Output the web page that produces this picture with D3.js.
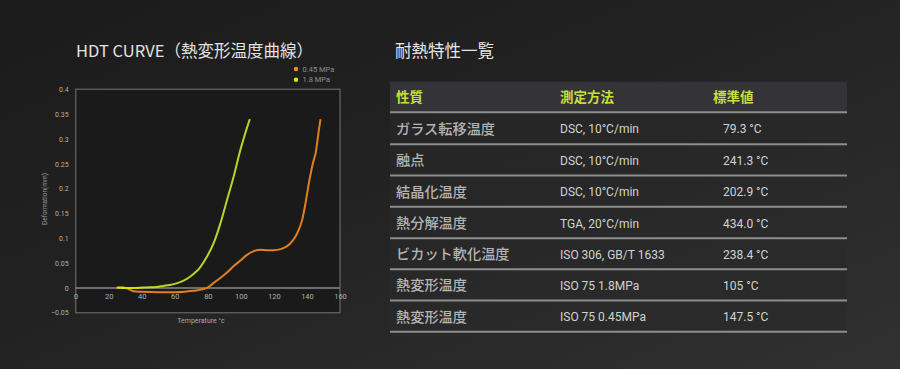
<!DOCTYPE html>
<html>
<head>
<meta charset="utf-8">
<script src="https://cdn.jsdelivr.net/npm/d3@7"></script>
<style>
html,body{margin:0;padding:0;background:#222;}
svg{display:block;}
</style>
</head>
<body>
<svg id="c" width="900" height="369"></svg>
<script>
// ---- data ----
const seriesNames = ["0.45 MPa", "1.8 MPa"];
const tempOrange = [24.5, 28, 31, 33, 35, 40, 50, 60, 66, 71, 75, 79.5, 83.5, 87.5, 91.6, 95.7, 99.7, 103.5, 107.8, 111.8, 115.9, 119.9, 124, 127, 130, 132, 134.1, 137.1, 139.1, 141.1, 143.2, 144.5, 145.3, 146, 147, 148.2];
const defOrange  = [0, 0.001, -0.001, -0.004, -0.007, -0.008, -0.009, -0.009, -0.008, -0.006, -0.004, 0, 0.010, 0.020, 0.031, 0.044, 0.055, 0.066, 0.074, 0.077, 0.076, 0.076, 0.078, 0.082, 0.090, 0.098, 0.110, 0.137, 0.170, 0.210, 0.245, 0.262, 0.272, 0.288, 0.313, 0.340];
const tempGreen = [25, 31, 37, 43, 49, 53, 57, 61, 65, 69, 72, 75, 79.5, 83.5, 87.6, 91.6, 95.6, 99.7, 102.5, 105.4];
const defGreen  = [0.001, 0, 0, 0.001, 0.002, 0.004, 0.006, 0.009, 0.014, 0.022, 0.030, 0.040, 0.063, 0.090, 0.130, 0.177, 0.224, 0.278, 0.310, 0.340];
const xTicks = [0, 20, 40, 60, 80, 100, 120, 140, 160];
const yTicks = [-0.05, 0, 0.05, 0.1, 0.15, 0.2, 0.25, 0.3, 0.35, 0.4];

const tableHeader = ["性質", "測定方法", "標準値"];
const propNames = ["ガラス転移温度", "融点", "結晶化温度", "熱分解温度", "ビカット軟化温度", "熱変形温度", "熱変形温度"];
const methods = ["DSC, 10°C/min", "DSC, 10°C/min", "DSC, 10°C/min", "TGA, 20°C/min", "ISO 306, GB/T 1633", "ISO 75 1.8MPa", "ISO 75 0.45MPa"];
const values = ["79.3 °C", "241.3 °C", "202.9 °C", "434.0 °C", "238.4 °C", "105 °C", "147.5 °C"];

// ---- drawing ----
const svg = d3.select("#c");
const defs = svg.append("defs");
const bg = defs.append("linearGradient").attr("id","bg").attr("x1","0").attr("y1","0").attr("x2","1").attr("y2","1");
bg.append("stop").attr("offset","0%").attr("stop-color","#1b1b1b");
bg.append("stop").attr("offset","45%").attr("stop-color","#222222");
bg.append("stop").attr("offset","100%").attr("stop-color","#313131");
svg.append("rect").attr("width",900).attr("height",369).attr("fill","url(#bg)");

const cjk = "'Noto Sans CJK JP','Noto Sans',sans-serif";
const lat = "Roboto,'Noto Sans',sans-serif";

// titles
svg.append("text").attr("x",76).attr("y",57).attr("fill","#e2e2e2")
  .style("font-family",cjk).style("font-size","16.5px").text("HDT CURVE（熱変形温度曲線）");
svg.append("text").attr("x",395).attr("y",57).attr("fill","#e6e6e6")
  .style("font-family",cjk).style("font-size","16.5px").text("耐熱特性一覧");

// chart
const x = d3.scaleLinear().domain([0,160]).range([75.7,340]);
const y = d3.scaleLinear().domain([-0.05,0.4]).range([312.7,89.3]);

svg.append("rect").attr("x",x(0)).attr("y",y(0.4)).attr("width",x(160)-x(0)).attr("height",y(-0.05)-y(0.4))
  .attr("fill","#1a1a1a").attr("stroke","#5a5a5a").attr("stroke-width",1.5);

svg.append("line").attr("x1",x(0)).attr("x2",x(160)).attr("y1",y(0)).attr("y2",y(0))
  .attr("stroke","#8a8a8a").attr("stroke-width",1.5);

const yAxis = svg.append("g").attr("transform",`translate(${x(0)},0)`)
  .call(d3.axisLeft(y).tickValues(yTicks).tickSize(0).tickPadding(7).tickFormat(d => d3.format("")(+d.toFixed(2))));
yAxis.select(".domain").remove();
yAxis.selectAll("text").attr("fill","#b0b0b0").style("font-family",lat).style("font-size","7px");

const xAxis = svg.append("g").attr("transform",`translate(0,${y(0)})`)
  .call(d3.axisBottom(x).tickValues(xTicks).tickSize(0).tickPadding(6));
xAxis.select(".domain").remove();
xAxis.selectAll("text").attr("fill","#b0b0b0").style("font-family",lat).style("font-size","7.5px");

svg.append("text").attr("transform","translate(47,199) rotate(-90)").attr("text-anchor","middle")
  .attr("fill","#999").style("font-family",lat).style("font-size","6.5px").text("Deformation(mm)");
svg.append("text").attr("x",201).attr("y",323).attr("text-anchor","middle")
  .attr("fill","#aaa").style("font-family",lat).style("font-size","7px").text("Temperature  °c");

const line = d3.line().x(d => x(d[0])).y(d => y(d[1])).curve(d3.curveMonotoneX);
const orangeData = tempOrange.map((t,i) => [t, defOrange[i]]);
const greenData = tempGreen.map((t,i) => [t, defGreen[i]]);
svg.append("path").datum(orangeData).attr("d",line).attr("fill","none")
  .attr("stroke","#e2801c").attr("stroke-width",2);
const gg = defs.append("linearGradient").attr("id","gg").attr("gradientUnits","userSpaceOnUse")
  .attr("x1",x(25)).attr("x2",x(60)).attr("y1",0).attr("y2",0);
gg.append("stop").attr("offset","0%").attr("stop-color","#e6e200");
gg.append("stop").attr("offset","100%").attr("stop-color","#b2d62a");
svg.append("path").datum(greenData).attr("d",line).attr("fill","none")
  .attr("stroke","url(#gg)").attr("stroke-width",2);

// legend
const legColors = ["#f0901a","#dcec00"];
seriesNames.forEach((n,i) => {
  svg.append("circle").attr("cx",296).attr("cy",69+i*10.7).attr("r",2.2).attr("fill",legColors[i]);
  svg.append("text").attr("x",302.5).attr("y",71.6+i*10.7).attr("fill","#8e8e8e")
    .style("font-family",lat).style("font-size","7.5px").text(n);
});

// table
const tx0 = 390, tx1 = 847;
const colX = [396, 560, 723];
svg.append("rect").attr("x",tx0).attr("y",81.7).attr("width",tx1-tx0).attr("height",30.5).attr("fill","#333338");
tableHeader.forEach((h,i) => {
  svg.append("text").attr("x", i===2 ? 713 : colX[i]).attr("y",102).attr("fill","#c8df3a")
    .style("font-family",cjk).style("font-weight","bold").style("font-size","13.5px").text(h);
});
const lineYs = [112.3, 144.3, 175.5, 206.8, 238.2, 269.2, 300.4, 331.7];
propNames.forEach((p,i) => {
  const top = lineYs[i], bot = lineYs[i+1], mid = (top+bot)/2;
  svg.append("rect").attr("x",tx0).attr("y",top+1).attr("width",tx1-tx0).attr("height",bot-top-2)
    .attr("fill","#2a2a2a").attr("opacity",0.55);
  svg.append("text").attr("x",colX[0]).attr("y",mid+5.5).attr("fill","#b4b4b4")
    .style("font-family",cjk).style("font-weight","500").style("font-size","14.2px").text(p);
  svg.append("text").attr("x",colX[1]).attr("y",mid+5).attr("fill","#d2d2d2")
    .style("font-family",lat).style("font-size","12px").text(methods[i]);
  svg.append("text").attr("x",colX[2]).attr("y",mid+5).attr("fill","#d2d2d2")
    .style("font-family",lat).style("font-size","12px").text(values[i]);
});
lineYs.forEach(ly => {
  svg.append("line").attr("x1",tx0).attr("x2",tx1).attr("y1",ly).attr("y2",ly)
    .attr("stroke","#8e8e8e").attr("stroke-width",2);
});
</script>
</body>
</html>
